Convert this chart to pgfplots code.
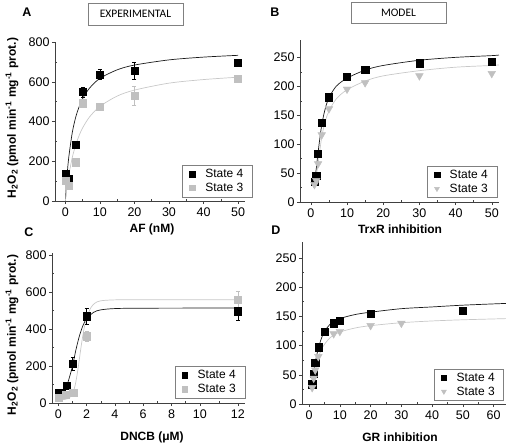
\documentclass[border=0pt]{standalone}
\usepackage{fontspec}
\setmainfont{Liberation Sans}
\newfontfamily\calib{Carlito}
\usepackage{pgfplots}
\pgfplotsset{compat=1.18}
\definecolor{mgray}{HTML}{C0C0C0}
\definecolor{cgray}{HTML}{C8C8C8}
\definecolor{cblack}{HTML}{1A1A1A}
\pgfplotsset{
  panel/.style={
    scale only axis,
    axis x line*=bottom, axis y line*=left,
    axis line style={black!75, line width=0.6bp},
    tick align=outside,
    major tick length=3bp, minor tick length=2bp,
    tick style={black!75, line width=0.5bp},
    minor tick num=1,
    minor x tick style={yshift=2bp},
    minor y tick style={xshift=2bp},
    /pgf/number format/assume math mode=true,
    tick label style={font=\fontsize{12.5bp}{13bp}\selectfont},
    xticklabel style={yshift=0bp},
    yticklabel style={xshift=1bp},
    legend style={draw=gray, line width=0.5bp, font=\fontsize{12bp}{14bp}\selectfont,
      inner xsep=7bp, inner ysep=2bp, legend cell align=left,
      /tikz/every odd column/.append style={column sep=8bp}},
    legend image post style={mark size=2.8bp},
    clip=false,
  },
  s4/.style={only marks, mark=square*, mark size=3.6bp, color=black},
  s3/.style={only marks, mark=square*, mark size=3.6bp, color=mgray},
  t3/.style={only marks, mark=triangle*, mark size=4.4bp, color=mgray, mark options={rotate=180}},
  c4/.style={cblack, line width=0.7bp, forget plot, smooth},
  c3/.style={cgray, line width=0.7bp, forget plot, smooth},
  eb/.style={/pgfplots/error bars/.cd, y dir=both, y explicit,
     error bar style={line width=0.5bp}, error mark options={rotate=90, mark size=2bp, line width=0.5bp},
     /pgfplots/.cd},
}
\begin{document}
\begin{tikzpicture}
\path[use as bounding box] (0,0) rectangle (506bp,-445bp);

% ---------- Panel A ----------
\begin{axis}[panel, at={(55bp,-201bp)}, anchor=south west,
  width=190bp, height=159bp,
  xmin=-3, xmax=52, ymin=0, ymax=800,
  xtick={0,10,...,50}, ytick={0,200,...,800},
  legend style={at={(1.04,0.025)}, anchor=south east}]
\addplot[c4] coordinates {(0,0) (0.5,129) (1,222) (2,344) (3,422) (4,475) (5,515) (7,568) (10,617) (15,660) (20,684) (30,710) (40,724) (50,733)};
\addplot[c3] coordinates {(0,0) (0.5,72) (1,131) (2,219) (3,282) (4,330) (5,368) (7,423) (10,476) (15,528) (20,558) (30,593) (40,611) (50,623)};
\addplot[s4, eb] coordinates {(0,136) +- (0,0) (1,111) +- (0,0) (3,282) +- (0,15) (5,548) +- (0,25) (10,637) +- (0,25) (20,655) +- (0,43) (50,694) +- (0,0)};
\addplot[s3, eb] coordinates {(0,101) +- (0,0) (1,79) +- (0,0) (3,195) +- (0,0) (5,492) +- (0,20) (10,476) +- (0,0) (20,529) +- (0,48) (50,615) +- (0,0)};
\legend{State 4, State 3}
\end{axis}

% ---------- Panel B ----------
\begin{axis}[panel, at={(300bp,-202bp)}, anchor=south west,
  width=199bp, height=162bp,
  xmin=-3, xmax=52, ymin=0, ymax=280,
  xtick={0,10,...,50}, ytick={0,50,...,250},
  legend style={at={(0.99,0.025)}, anchor=south east}]
\addplot[c4] coordinates {(0.8,30) (1,34) (1.5,58) (2,86) (3,133) (4,162) (5,180) (7,200) (10,214) (15,228) (20,236) (30,245) (40,250) (50,253) (52,254)};
\addplot[c3] coordinates {(0.8,25) (1,28) (1.5,45) (2,66) (3,112) (4,140) (5,157) (7,178) (10,194) (15,209) (20,218) (30,227) (40,233) (50,236) (52,237)};
\addplot[s4] coordinates {(1,35) (1.5,46) (2,84) (3,137) (5,181) (10,216) (15,228) (30,240) (50,243)};
\addplot[t3] coordinates {(1,30) (1.5,37) (2,66) (3,116) (5,161) (10,195) (15,206) (30,218) (50,222)};
\legend{State 4, State 3}
\end{axis}

% ---------- Panel C ----------
\begin{axis}[panel, at={(52bp,-403bp)}, anchor=south west,
  width=193bp, height=150bp,
  xmin=-0.45, xmax=13.2, ymin=0, ymax=810,
  xtick={0,2,4,6,8,10,12.7}, xticklabels={0,2,4,6,8,10,12},
  minor xtick={1,3,5,7,9,11.35},
  ytick={0,200,...,800},
  legend style={at={(1.0,0.03)}, anchor=south east}]
\addplot[c4] coordinates {(0,22) (0.3,40) (0.5,70) (0.75,130) (1.0,200) (1.25,290) (1.5,365) (1.75,420) (2.0,455) (2.5,490) (3,503) (4,510) (6,512) (12.7,513)};
\addplot[c3] coordinates {(0,18) (0.5,20) (0.8,30) (1.0,50) (1.2,100) (1.4,190) (1.6,300) (1.8,395) (2.0,460) (2.3,515) (2.6,540) (3,552) (4,557) (6,558) (12.7,558)};
\addplot[s4, eb] coordinates {(0,54) +- (0,0) (0.25,57) +- (0,0) (0.6,92) +- (0,0) (1,211) +- (0,35) (2,469) +- (0,45) (12.7,496) +- (0,50)};
\addplot[s3, eb] coordinates {(0,27) +- (0,0) (0.5,47) +- (0,0) (1.05,54) +- (0,0) (2,361) +- (0,25) (12.7,560) +- (0,45)};
\legend{State 4, State 3}
\end{axis}

% ---------- Panel D ----------
\begin{axis}[panel, at={(302bp,-404bp)}, anchor=south west,
  width=204bp, height=162bp,
  xmin=-2.3, xmax=64, ymin=0, ymax=277,
  xtick={0,10,...,60}, ytick={0,50,...,250},
  legend style={at={(0.99,0.02)}, anchor=south east}]
\addplot[c4] coordinates {(1,35) (1.5,55) (2,71) (3,95) (4,112) (5,124) (7,137) (10,146) (15,153) (20,157) (30,163) (40,166) (50,169) (64,172)};
\addplot[c3] coordinates {(1,28) (1.5,42) (2,56) (3,79) (4,93) (5,102) (7,114) (10,123) (15,130) (20,134) (30,139) (40,142) (50,144) (64,146)};
\addplot[s4] coordinates {(1,34) (1.5,52) (2,71) (3,97) (5,123) (8,138) (10,143) (20,154) (50,160)};
\addplot[t3] coordinates {(1,28) (1.5,44) (2,58) (3,81) (8,120) (10,124) (20,134) (30,138)};
\legend{State 4, State 3}
\end{axis}

% ---------- Labels ----------
\node[font=\bfseries\fontsize{12.5bp}{14bp}\selectfont] at (27bp,-12bp) {A};
\node[font=\bfseries\fontsize{12.5bp}{14bp}\selectfont] at (275bp,-12bp) {B};
\node[font=\bfseries\fontsize{12.5bp}{14bp}\selectfont] at (29bp,-232bp) {C};
\node[font=\bfseries\fontsize{12.5bp}{14bp}\selectfont] at (276bp,-230bp) {D};

\node[draw=gray, line width=0.7bp, minimum width=95bp, minimum height=22bp, inner sep=0pt,
  font=\calib\fontsize{11.5bp}{13bp}\selectfont] at (135.5bp,-14bp) {EXPERIMENTAL};
\node[draw=gray, line width=0.7bp, minimum width=95bp, minimum height=21bp, inner sep=0pt,
  font=\calib\fontsize{11.5bp}{13bp}\selectfont] at (398.5bp,-12.5bp) {MODEL};

\node[rotate=90, font=\bfseries\fontsize{12bp}{13bp}\selectfont] at (12bp,-118bp)
  {H\textsubscript{2}O\textsubscript{2} (pmol min\textsuperscript{-1} mg\textsuperscript{-1} prot.)};
\node[rotate=90, font=\bfseries\fontsize{12bp}{13bp}\selectfont] at (12bp,-335bp)
  {H\textsubscript{2}O\textsubscript{2} (pmol min\textsuperscript{-1} mg\textsuperscript{-1} prot.)};

\node[font=\bfseries\fontsize{12bp}{13bp}\selectfont] at (152bp,-229bp) {AF (nM)};
\node[font=\bfseries\fontsize{12bp}{13bp}\selectfont] at (400bp,-229bp) {TrxR inhibition};
\node[font=\bfseries\fontsize{12bp}{13bp}\selectfont] at (152bp,-437bp) {DNCB (μM)};
\node[font=\bfseries\fontsize{12bp}{13bp}\selectfont] at (400bp,-437bp) {GR inhibition};
\end{tikzpicture}
\end{document}
